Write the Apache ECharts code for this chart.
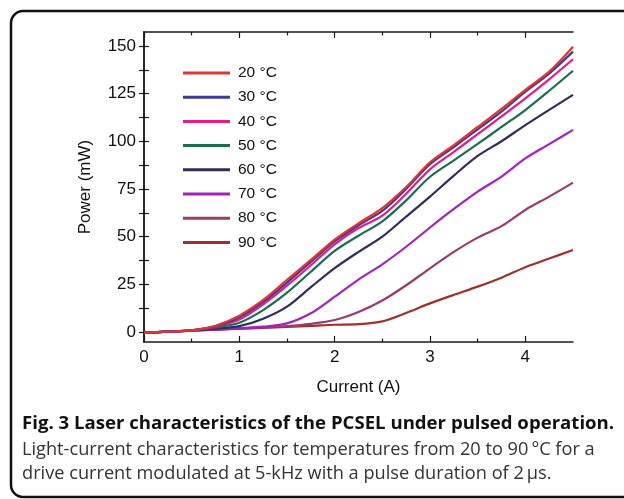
<!DOCTYPE html>
<html>
<head>
<meta charset="utf-8">
<script src="https://cdn.jsdelivr.net/npm/echarts@6/dist/echarts.min.js"></script>
<style>
  html, body { margin: 0; padding: 0; background: #fff; }
  #chart { width: 624px; height: 499px; }
</style>
</head>
<body>
<div id="chart"></div>
<script>
// current (A)
const current = [0, 0.25, 0.5, 0.75, 1, 1.25, 1.5, 1.75, 2, 2.25, 2.5, 2.75, 3, 3.25, 3.5, 3.75, 4, 4.25, 4.5]
// power (mW) per temperature
const p20 = [-0.5, 0.2, 0.9, 3.3, 8.6, 16.8, 27.3, 37.8, 48.5, 57, 65, 76, 89, 98, 107.5, 117, 127, 136.5, 149.6]
const p30 = [-0.5, 0.2, 0.9, 3.0, 7.7, 15.8, 25.9, 36.8, 47.5, 56, 63.5, 75, 88, 97, 106.3, 115.5, 126, 135.5, 147]
const p40 = [-0.5, 0.2, 0.9, 2.8, 6.5, 14.5, 24.3, 35, 46, 54.5, 61, 72.5, 85.3, 94.5, 103.7, 113, 122.5, 132.5, 143]
const p50 = [-0.5, 0.2, 0.8, 2.4, 4.9, 11.5, 20.6, 31.6, 42.5, 50.5, 58, 69, 81.4, 90, 98.6, 107.5, 116.4, 126.5, 137]
const p60 = [-0.5, 0.2, 0.7, 1.8, 3.1, 7, 13.3, 23.5, 33.5, 42, 50, 60.5, 71, 82, 92.3, 100, 108.5, 116.5, 124.3]
const p70 = [-0.5, 0.2, 0.8, 1.3, 2.0, 2.8, 4.5, 9.8, 18.5, 27.5, 35.5, 44.7, 54.8, 64.5, 73.6, 81.5, 91, 98.5, 106]
const p80 = [-0.5, 0.2, 0.8, 1.2, 1.8, 2.4, 3.1, 4.3, 6.3, 10.5, 16.5, 24.5, 33.4, 42, 49.5, 55.5, 64, 71, 78.3]
const p90 = [-0.5, 0.2, 0.8, 1.2, 1.7, 2.2, 2.7, 3.2, 3.8, 4.1, 5.6, 10, 15, 19.5, 23.8, 28.5, 34, 38.5, 43]

const temps = ['20 °C', '30 °C', '40 °C', '50 °C', '60 °C', '70 °C', '80 °C', '90 °C']
const powers = [p20, p30, p40, p50, p60, p70, p80, p90]
const colors = ['#e4352b', '#3d3a9e', '#e8198a', '#18704a', '#2e2d5e', '#a521bd', '#9b3b6b', '#a0302c']

const xMajor = [0, 1, 2, 3, 4]
const xMinor = [0.5, 1.5, 2.5, 3.5]
const yLabels = [0, 25, 50, 75, 100, 125, 150]
const yTicks = [0, 12.5, 25, 37.5, 50, 62.5, 75, 87.5, 100, 112.5, 125, 137.5, 150]

const axisColor = '#1a1a1a'
const font = '"Liberation Sans", Arial, sans-serif'
const captionFont = '"Open Sans", sans-serif'

function xAxisDef (position, ticks, len, showLine, showLabel) {
  return {
    type: 'value',
    position: position,
    min: 0,
    max: 4.5,
    splitLine: { show: false },
    axisLine: { show: showLine, onZero: false, lineStyle: { color: axisColor, width: 1.5 } },
    axisTick: { show: true, inside: true, length: len, customValues: ticks, lineStyle: { color: axisColor, width: 1.2 } },
    axisLabel: { show: showLabel, customValues: xMajor, margin: 7, fontSize: 17, color: '#111', fontFamily: font }
  }
}

const chart = echarts.init(document.getElementById('chart'), null, { renderer: 'canvas' })

const option = {
  animation: false,
  backgroundColor: '#fff',
  grid: { left: 144, right: 51, top: 32, bottom: 157 },
  legend: {
    orient: 'vertical',
    left: 183,
    top: 65,
    padding: 0,
    itemGap: 8.2,
    itemWidth: 47,
    itemHeight: 3,
    icon: 'rect',
    data: temps,
    textStyle: { fontSize: 15.5, lineHeight: 16, color: '#111', fontFamily: font, padding: [0, 0, 0, 3] }
  },
  xAxis: [
    Object.assign(xAxisDef('bottom', xMajor, 6, true, true), {
      name: 'Current (A)',
      nameLocation: 'middle',
      nameGap: 37,
      nameTextStyle: { fontSize: 17, color: '#111', fontFamily: font }
    }),
    xAxisDef('bottom', xMinor, 3.5, false, false),
    xAxisDef('top', xMajor, 6, true, false),
    xAxisDef('top', xMinor, 3.5, false, false)
  ],
  yAxis: [
    {
      type: 'value',
      position: 'left',
      min: -5.24,
      max: 157.3,
      splitLine: { show: false },
      name: 'Power (mW)',
      nameLocation: 'middle',
      nameGap: 50,
      nameTextStyle: { fontSize: 17, color: '#111', fontFamily: font },
      axisLine: { show: true, lineStyle: { color: axisColor, width: 1.5 } },
      axisTick: { show: true, inside: true, length: 5, customValues: yTicks, lineStyle: { color: axisColor, width: 1.2 } },
      axisLabel: { customValues: yLabels, margin: 8, fontSize: 17, color: '#111', fontFamily: font }
    },
    {
      type: 'value',
      position: 'right',
      min: -5.24,
      max: 157.3,
      splitLine: { show: false },
      axisLine: { show: true, lineStyle: { color: axisColor, width: 1.5 } },
      axisTick: { show: true, inside: true, length: 5, customValues: yTicks, lineStyle: { color: axisColor, width: 1.2 } },
      axisLabel: { show: false }
    }
  ],
  series: temps.map((name, i) => ({
    name: name,
    type: 'line',
    smooth: 0.3,
    showSymbol: false,
    color: colors[i],
    lineStyle: { width: 2.2 },
    data: current.map((c, k) => [c, powers[i][k]])
  })).reverse(),
  graphic: [
    {
      type: 'rect',
      shape: { x: 11, y: 11, width: 660, height: 486, r: 12 },
      style: { fill: 'none', stroke: '#111', lineWidth: 2.5 },
      silent: true
    },
    {
      type: 'text',
      x: 22,
      y: 424,
      style: {
        text: 'Fig. 3 Laser characteristics of the PCSEL under pulsed operation.',
        fontSize: 18.6,
        fontWeight: 'bold',
        fontFamily: captionFont,
        fill: '#111',
        verticalAlign: 'middle'
      }
    },
    {
      type: 'text',
      x: 22,
      y: 450,
      style: {
        text: 'Light-current characteristics for temperatures from 20 to 90\u2009°C for a',
        fontSize: 18.2,
        fontFamily: captionFont,
        fill: '#333',
        verticalAlign: 'middle'
      }
    },
    {
      type: 'text',
      x: 22,
      y: 474,
      style: {
        text: 'drive current modulated at 5-kHz with a pulse duration of 2\u2009μs.',
        fontSize: 18.2,
        fontFamily: captionFont,
        fill: '#333',
        verticalAlign: 'middle'
      }
    }
  ]
}

chart.setOption(option)
</script>
</body>
</html>
